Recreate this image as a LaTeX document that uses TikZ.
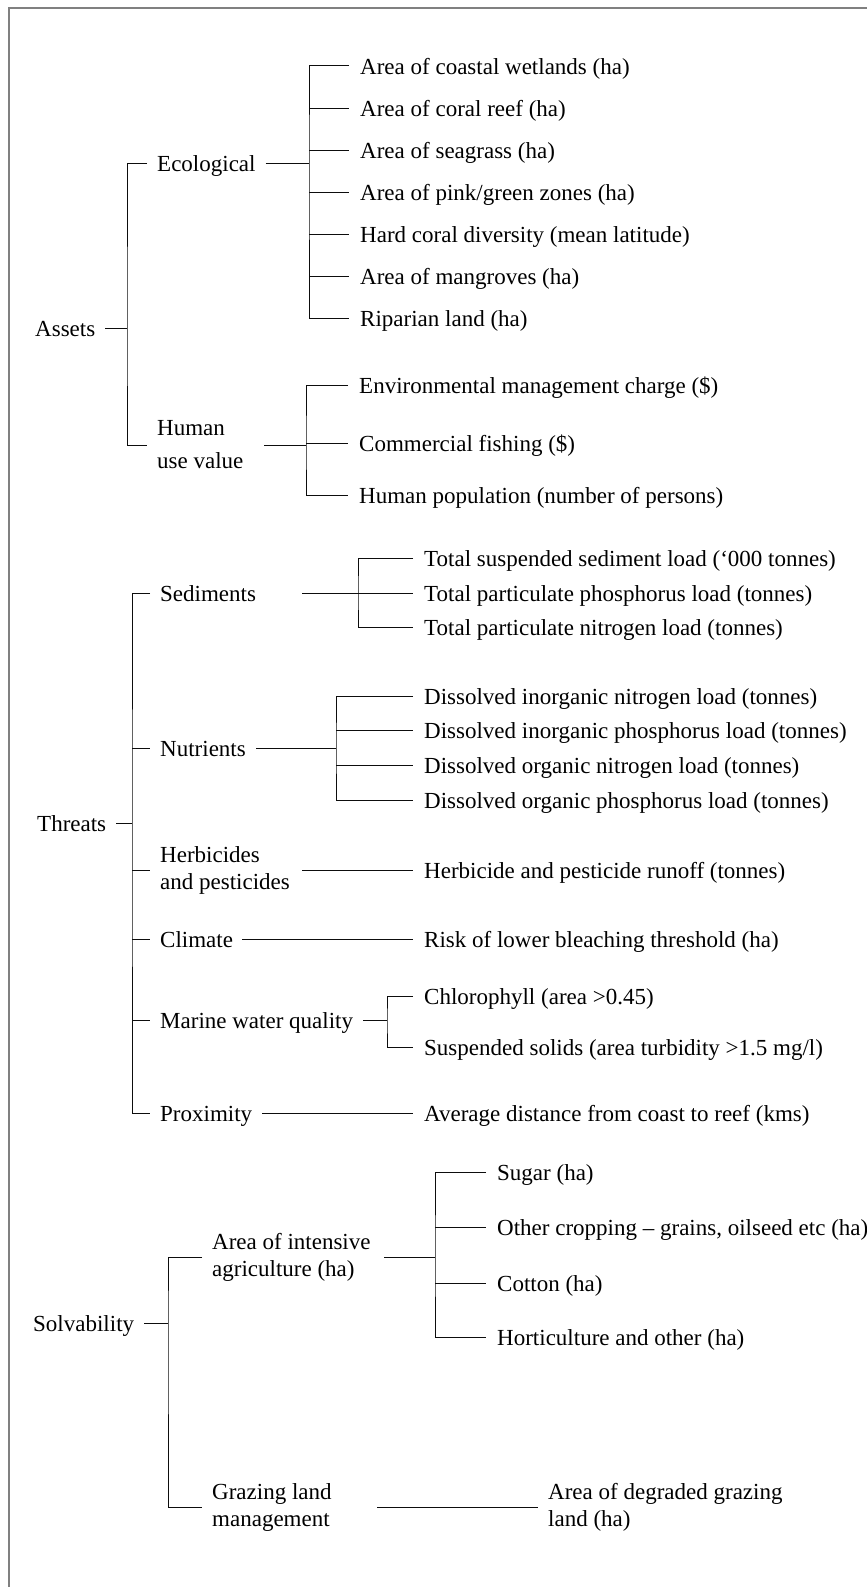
\documentclass[tikz,border=0pt]{standalone}
\usepackage{fontspec}
\setmainfont{Liberation Serif}
\newlength{\du}
\setlength{\du}{1pt}
\definecolor{framecolor}{rgb}{0.5,0.5,0.5}
\definecolor{linecolor}{rgb}{0.05,0.05,0.05}
\tikzset{
  treetext/.style={anchor=west, inner xsep=10\du, inner ysep=0pt, font=\fontsize{23}{27}\selectfont},
  oneline/.style={treetext, text height=20.7pt, text depth=3.7pt},
  twoline/.style={treetext, align=left},
  leafline/.style={oneline, inner xsep=11\du},
  branch/.style={draw=linecolor, line width=1\du},
}
\begin{document}
\begin{tikzpicture}[yscale=-1]
\useasboundingbox (0,0) rectangle (867\du,1587\du);
\draw[framecolor, line width=2\du] (9\du,1587\du) -- (9\du,8\du) -- (867\du,8\du);
% Assets
\node[oneline] (assets) at (25\du,328\du){Assets};
\coordinate (assetsJ) at (127\du,328\du);
\node[oneline] (eco) at (147\du,163\du){Ecological};
\node[twoline, font=\fontsize{23}{33}\selectfont] (human) at (147\du,445\du){Human\\use value};
\draw[branch] (assets.east) -- (assetsJ);
\draw[branch] (eco.west) -| (assetsJ) |- (human.west);
\coordinate (ecoJ) at (309\du,163\du);
\node[leafline] (eco1) at (349\du,66\du){Area of coastal wetlands (ha)};
\node[leafline] (eco2) at (349\du,108\du){Area of coral reef (ha)};
\node[leafline] (eco3) at (349\du,150\du){Area of seagrass (ha)};
\node[leafline] (eco4) at (349\du,192\du){Area of pink/green zones (ha)};
\node[leafline] (eco5) at (349\du,234\du){Hard coral diversity (mean latitude)};
\node[leafline] (eco6) at (349\du,276\du){Area of mangroves (ha)};
\node[leafline] (eco7) at (349\du,318\du){Riparian land (ha)};
\draw[branch] (eco.east) -- (ecoJ);
\draw[branch] (eco1.west) -| (ecoJ) |- (eco7.west);
\draw[branch] (ecoJ |- eco2.west) -- (eco2.west);
\draw[branch] (ecoJ |- eco3.west) -- (eco3.west);
\draw[branch] (ecoJ |- eco4.west) -- (eco4.west);
\draw[branch] (ecoJ |- eco5.west) -- (eco5.west);
\draw[branch] (ecoJ |- eco6.west) -- (eco6.west);
\coordinate (humanO) at (264\du,445\du);
\coordinate (humanJ) at (306\du,445\du);
\node[leafline] (hum1) at (348\du,385\du){Environmental management charge (\$)};
\node[leafline] (hum2) at (348\du,443\du){Commercial fishing (\$)};
\node[leafline] (hum3) at (348\du,495\du){Human population (number of persons)};
\draw[branch] (humanO) -- (humanJ);
\draw[branch] (hum1.west) -| (humanJ) |- (hum3.west);
\draw[branch] (humanJ |- hum2.west) -- (hum2.west);
% Threats
\node[oneline] (threats) at (27\du,823\du){Threats};
\coordinate (threatsJ) at (132\du,823\du);
\node[oneline] (sed) at (150\du,593\du){Sediments};
\node[oneline] (nut) at (150\du,748\du){Nutrients};
\node[twoline] (herb) at (150\du,870\du){Herbicides\\and pesticides};
\node[oneline] (clim) at (150\du,939\du){Climate};
\node[oneline] (mar) at (150\du,1020\du){Marine water quality};
\node[oneline] (prox) at (150\du,1113\du){Proximity};
\draw[branch] (threats.east) -- (threatsJ);
\draw[branch] (sed.west) -| (threatsJ) |- (prox.west);
\draw[branch] (threatsJ |- nut.west) -- (nut.west);
\draw[branch] (threatsJ |- herb.west) -- (herb.west);
\draw[branch] (threatsJ |- clim.west) -- (clim.west);
\draw[branch] (threatsJ |- mar.west) -- (mar.west);
\coordinate (sedO) at (302\du,593\du);
\coordinate (sedJ) at (358\du,593\du);
\node[leafline] (sed1) at (413\du,558\du){Total suspended sediment load (‘000 tonnes)};
\node[leafline] (sed2) at (413\du,593\du){Total particulate phosphorus load (tonnes)};
\node[leafline] (sed3) at (413\du,627\du){Total particulate nitrogen load (tonnes)};
\draw[branch] (sedO) -- (sed2.west);
\draw[branch] (sed1.west) -| (sedJ) |- (sed3.west);
\coordinate (nutJ) at (336\du,748\du);
\node[leafline] (nut1) at (413\du,696\du){Dissolved inorganic nitrogen load (tonnes)};
\node[leafline] (nut2) at (413\du,730\du){Dissolved inorganic phosphorus load (tonnes)};
\node[leafline] (nut3) at (413\du,765\du){Dissolved organic nitrogen load (tonnes)};
\node[leafline] (nut4) at (413\du,800\du){Dissolved organic phosphorus load (tonnes)};
\draw[branch] (nut.east) -- (nutJ);
\draw[branch] (nut1.west) -| (nutJ) |- (nut4.west);
\draw[branch] (nutJ |- nut2.west) -- (nut2.west);
\draw[branch] (nutJ |- nut3.west) -- (nut3.west);
\coordinate (herbO) at (302\du,870\du);
\node[leafline] (herb1) at (413\du,870\du){Herbicide and pesticide runoff (tonnes)};
\draw[branch] (herbO) -- (herb1.west);
\coordinate (climO) at (242\du,939\du);
\node[leafline] (clim1) at (413\du,939\du){Risk of lower bleaching threshold (ha)};
\draw[branch] (climO) -- (clim1.west);
\coordinate (marJ) at (387\du,1020\du);
\node[leafline] (mar1) at (413\du,996\du){Chlorophyll (area >0.45)};
\node[leafline] (mar2) at (413\du,1047\du){Suspended solids (area turbidity >1.5 mg/l)};
\draw[branch] (mar.east) -- (marJ);
\draw[branch] (mar1.west) -| (marJ) |- (mar2.west);
\coordinate (proxO) at (262\du,1113\du);
\node[leafline] (prox1) at (413\du,1113\du){Average distance from coast to reef (kms)};
\draw[branch] (proxO) -- (prox1.west);
% Solvability
\node[oneline] (solv) at (23\du,1323\du){Solvability};
\coordinate (solvJ) at (168\du,1323\du);
\node[twoline] (intens) at (202\du,1257\du){Area of intensive\\agriculture (ha)};
\node[twoline] (graz) at (202\du,1507\du){Grazing land\\management};
\draw[branch] (solv.east) -- (solvJ);
\draw[branch] (intens.west) -| (solvJ) |- (graz.west);
\coordinate (intensO) at (384\du,1257\du);
\coordinate (intensJ) at (435\du,1257\du);
\node[leafline] (int1) at (486\du,1172\du){Sugar (ha)};
\node[leafline] (int2) at (486\du,1227\du){Other cropping – grains, oilseed etc (ha)};
\node[leafline] (int3) at (486\du,1283\du){Cotton (ha)};
\node[leafline] (int4) at (486\du,1337\du){Horticulture and other (ha)};
\draw[branch] (intensO) -- (intensJ);
\draw[branch] (int1.west) -| (intensJ) |- (int4.west);
\draw[branch] (intensJ |- int2.west) -- (int2.west);
\draw[branch] (intensJ |- int3.west) -- (int3.west);
\coordinate (grazO) at (377\du,1507\du);
\node[twoline] (graz1) at (538\du,1507\du){Area of degraded grazing\\land (ha)};
\draw[branch] (grazO) -- (graz1.west);
\end{tikzpicture}
\end{document}
